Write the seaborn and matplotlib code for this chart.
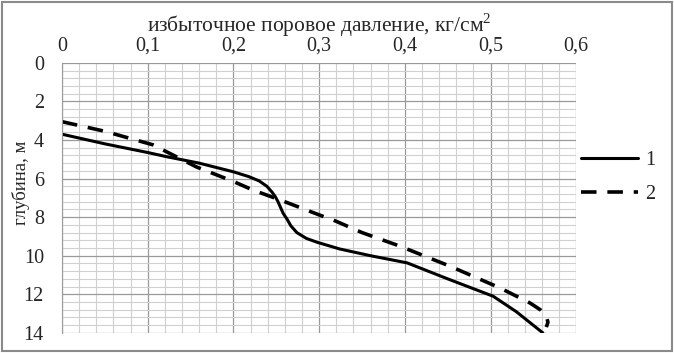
import numpy as np
import pandas as pd
import matplotlib.pyplot as plt
import seaborn as sns
from matplotlib.ticker import MultipleLocator, FuncFormatter
from matplotlib.patches import Rectangle

# curve 1 (solid): pressure, depth
p1 = [0.0, 0.05, 0.1, 0.1225, 0.16, 0.2, 0.218, 0.23, 0.239, 0.245, 0.249, 0.252,
      0.255, 0.258, 0.2625, 0.267, 0.274, 0.285, 0.2975, 0.324, 0.36, 0.4026,
      0.45, 0.503, 0.53, 0.561]
d1 = [3.7, 4.2, 4.65, 4.87, 5.2, 5.65, 5.9, 6.12, 6.4, 6.7, 6.95, 7.2,
      7.5, 7.8, 8.1, 8.45, 8.8, 9.1, 9.3, 9.65, 10.0, 10.37,
      11.2, 12.1, 12.9, 14.0]

# curve 2 (dashed)
p2 = [0.0, 0.05, 0.106, 0.157, 0.2, 0.223, 0.254, 0.301, 0.316, 0.35, 0.394,
      0.453, 0.511, 0.546, 0.558, 0.565, 0.567, 0.565]
d2 = [3.05, 3.55, 4.25, 5.4, 6.15, 6.6, 7.1, 7.9, 8.14, 8.8, 9.5,
      10.55, 11.67, 12.45, 12.8, 13.15, 13.45, 13.7]

xlabel = "избыточное поровое давление, кг/см$^2$"
ylabel = "глубина, м"

sns.set_style("white")
plt.rcParams['font.family'] = ['Liberation Serif', 'DejaVu Serif']
plt.rcParams['mathtext.fontset'] = 'custom'
plt.rcParams['mathtext.rm'] = 'Liberation Serif'

fig = plt.figure(figsize=(6.74, 3.53), dpi=100)
ax = fig.add_axes([0.092, 0.057, 0.763, 0.765])

df1 = pd.DataFrame({"p": p1, "d": d1})
df2 = pd.DataFrame({"p": p2, "d": d2})
sns.lineplot(data=df1, x="p", y="d", sort=False, estimator=None, color="black",
             linewidth=2.2, ax=ax, label="1")
sns.lineplot(data=df2, x="p", y="d", sort=False, estimator=None, color="black",
             linewidth=2.6, linestyle=(0, (4.3, 3.0)), ax=ax, label="2")

ax.set_xlim(0, 0.6)
ax.set_ylim(14, 0)
ax.xaxis.set_major_locator(MultipleLocator(0.1))
ax.xaxis.set_minor_locator(MultipleLocator(0.02))
ax.yaxis.set_major_locator(MultipleLocator(2))
ax.yaxis.set_minor_locator(MultipleLocator(0.4))
fmt = FuncFormatter(lambda v, pos: ("%g" % round(v, 2)).replace(".", ","))
ax.xaxis.set_major_formatter(fmt)
ax.yaxis.set_major_formatter(fmt)
ax.xaxis.tick_top()
ax.xaxis.set_label_position("top")
ax.tick_params(axis="both", which="both", length=0, labelsize=14.5)
ax.tick_params(axis="x", pad=5)
ax.tick_params(axis="y", pad=13)

ax.grid(True, which="major", color="#9a9a9a", linewidth=0.9)
ax.grid(True, which="minor", color="#d0d0d0", linewidth=0.8)
ax.set_axisbelow(True)
for s in ["top", "right", "bottom"]:
    ax.spines[s].set_visible(False)
ax.spines["left"].set_color("#9a9a9a")

ax.set_xlabel(xlabel, fontsize=15.5, labelpad=4)
ax.set_ylabel(ylabel, fontsize=13.5)
ax.yaxis.set_label_coords(-0.062, 0.556)

ax.legend(loc="center left", bbox_to_anchor=(1.01, 0.575), frameon=False,
          fontsize=14.5, handlelength=2.8, handletextpad=0.35, labelspacing=0.75,
          borderaxespad=0, borderpad=0)

fig.patches.append(Rectangle((0.003, 0.005), 0.994, 0.99, transform=fig.transFigure,
                             fill=False, edgecolor="#8a8a8a", linewidth=1.5))

fig.savefig("out.png", dpi=100)
